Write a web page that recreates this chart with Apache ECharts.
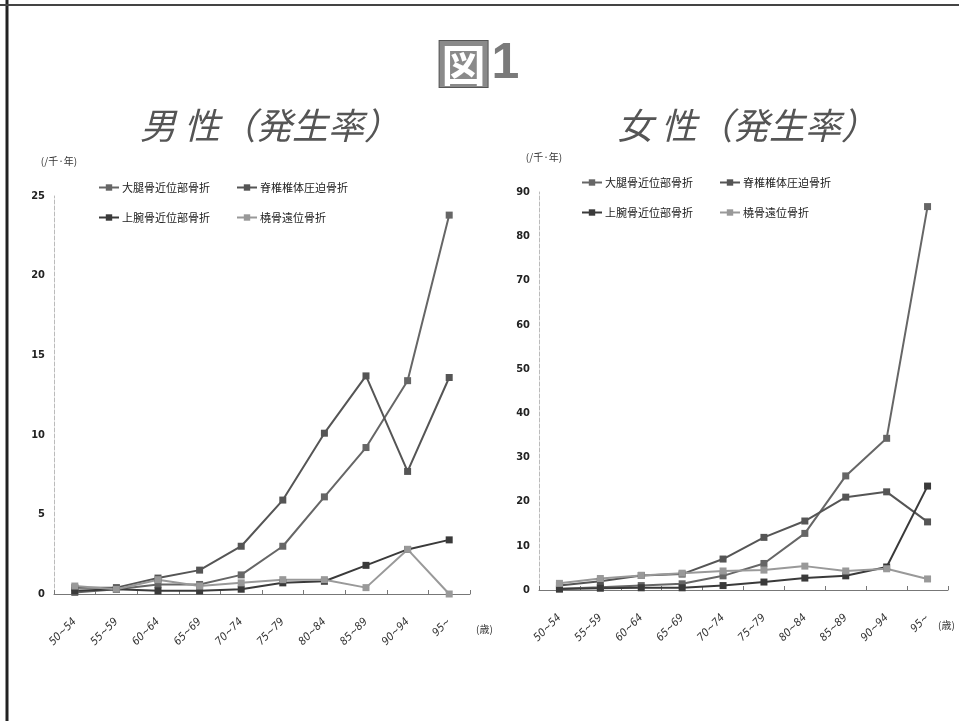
<!DOCTYPE html>
<html>
<head>
<meta charset="utf-8">
<script src="https://cdn.jsdelivr.net/npm/echarts@6/dist/echarts.min.js"></script>
<style>
html,body{margin:0;padding:0;background:#fff;}
#c{width:959px;height:721px;}
</style>
</head>
<body>
<div id="c"></div>
<script>
var ageGroups = ['50~54','55~59','60~64','65~69','70~74','75~79','80~84','85~89','90~94','95~'];
var seriesNames = ['大腿骨近位部骨折','脊椎椎体圧迫骨折','上腕骨近位部骨折','橈骨遠位骨折'];

// 男性（発生率） /千·年
var maleHip       = [0.1, 0.3, 0.6, 0.6, 1.2, 3.0, 6.1, 9.2, 13.4, 23.8];
var maleVertebral = [0.4, 0.4, 1.0, 1.5, 3.0, 5.9, 10.1, 13.7, 7.7, 13.6];
var maleHumerus   = [0.2, 0.3, 0.2, 0.2, 0.3, 0.7, 0.8, 1.8, 2.8, 3.4];
var maleRadius    = [0.5, 0.3, 0.9, 0.5, 0.7, 0.9, 0.9, 0.4, 2.8, 0.0];

// 女性（発生率） /千·年
var femaleHip       = [0.3, 0.6, 1.0, 1.4, 3.2, 6.0, 12.8, 25.8, 34.3, 86.7];
var femaleVertebral = [1.0, 2.0, 3.3, 3.6, 7.0, 11.9, 15.6, 21.0, 22.2, 15.4];
var femaleHumerus   = [0.2, 0.4, 0.5, 0.5, 1.0, 1.8, 2.7, 3.2, 5.2, 23.5];
var femaleRadius    = [1.5, 2.6, 3.3, 3.8, 4.3, 4.5, 5.4, 4.3, 4.8, 2.5];

var maleMax = 25, maleInterval = 5;
var femaleMax = 90, femaleInterval = 10;

var colors = ['#666666', '#555555', '#3a3a3a', '#999999'];
var tickFont = '"DejaVu Sans Condensed","DejaVu Sans",sans-serif';
var cjk = '"Noto Sans CJK JP",sans-serif';

function mkSeries(data, idx, axisIdx) {
  return {
    type: 'line', name: seriesNames[idx], data: data,
    xAxisIndex: axisIdx, yAxisIndex: axisIdx,
    symbol: 'rect', symbolSize: 7,
    lineStyle: {color: colors[idx], width: 2},
    itemStyle: {color: colors[idx]},
    emphasis: {disabled: true}
  };
}
function mkX(gi, nameGap) {
  return {
    type: 'category', gridIndex: gi, data: ageGroups, boundaryGap: true,
    axisLine: {lineStyle: {color: '#777', width: 1}},
    axisTick: {show: true, inside: true, length: 4, alignWithLabel: false, lineStyle: {color: '#777'}},
    axisLabel: {rotate: 45, margin: 26, fontSize: 11, fontStyle: 'italic', color: '#333', fontFamily: tickFont},
    name: '(歳)', nameLocation: 'end', nameGap: nameGap,
    nameTextStyle: {fontSize: 10, color: '#333', fontFamily: cjk, verticalAlign: 'top', padding: [30, 0, 0, 0]}
  };
}
function mkY(gi, max, interval, nameGap) {
  return {
    type: 'value', gridIndex: gi, min: 0, max: max, interval: interval,
    splitLine: {show: false},
    axisLine: {show: true, lineStyle: {color: '#bbb', width: 1, type: 'dashed'}},
    axisTick: {show: false},
    axisLabel: {fontSize: 11, fontWeight: 'bold', color: '#222', fontFamily: tickFont, margin: 9},
    name: '(/千·年)', nameLocation: 'end', nameGap: nameGap,
    nameTextStyle: {fontSize: 10, color: '#333', fontFamily: cjk, align: 'center', padding: [0, 0, 0, 10]}
  };
}
function mkLegend(left, top, names) {
  return {
    left: left, top: top, data: names, itemGap: 26, itemWidth: 20, itemHeight: 8,
    selectedMode: false,
    textStyle: {fontSize: 11, color: '#222', fontFamily: cjk, padding: [0, 0, 0, -2]}
  };
}

var chart = echarts.init(document.getElementById('c'));
chart.setOption({
  backgroundColor: '#fff',
  animation: false,
  title: [
    {text: '{a|図}{b|1}', left: 'center', top: 34,
     textStyle: {rich: {
       a: {fontSize: 44, fontWeight: 'bold', color: '#fff', backgroundColor: '#8a8a8a', fontFamily: cjk, padding: [2, 2, 0, 2], borderColor: '#555', borderWidth: 1},
       b: {fontSize: 50, fontWeight: 'bold', color: '#7a7a7a', fontFamily: '"Liberation Sans",sans-serif', padding: [0, 0, 0, 4]}
     }}},
    {text: '男 性（発生率）', left: 265, top: 102, textAlign: 'center',
     textStyle: {fontSize: 36, fontStyle: 'italic', fontWeight: 'normal', color: '#555', fontFamily: cjk}},
    {text: '女 性（発生率）', left: 742, top: 102, textAlign: 'center',
     textStyle: {fontSize: 36, fontStyle: 'italic', fontWeight: 'normal', color: '#555', fontFamily: cjk}}
  ],
  legend: [
    mkLegend(93, 177, [seriesNames[0], seriesNames[1]]),
    mkLegend(93, 207, [seriesNames[2], seriesNames[3]]),
    mkLegend(576, 172, [seriesNames[0], seriesNames[1]]),
    mkLegend(576, 202, [seriesNames[2], seriesNames[3]])
  ],
  grid: [
    {left: 54, top: 196, width: 416, height: 398, containLabel: false},
    {left: 539, top: 192, width: 409, height: 398, containLabel: false}
  ],
  xAxis: [mkX(0, 6), mkX(1, -10)],
  yAxis: [mkY(0, maleMax, maleInterval, 30), mkY(1, femaleMax, femaleInterval, 30)],
  series: [
    mkSeries(maleHip, 0, 0), mkSeries(maleVertebral, 1, 0), mkSeries(maleHumerus, 2, 0), mkSeries(maleRadius, 3, 0),
    mkSeries(femaleHip, 0, 1), mkSeries(femaleVertebral, 1, 1), mkSeries(femaleHumerus, 2, 1), mkSeries(femaleRadius, 3, 1)
  ],
  graphic: [
    {type: 'line', shape: {x1: 7, y1: 0, x2: 7, y2: 721}, style: {stroke: '#222', lineWidth: 3}},
    {type: 'line', shape: {x1: 0, y1: 5, x2: 959, y2: 5}, style: {stroke: '#444', lineWidth: 2}}
  ]
});
</script>
</body>
</html>
